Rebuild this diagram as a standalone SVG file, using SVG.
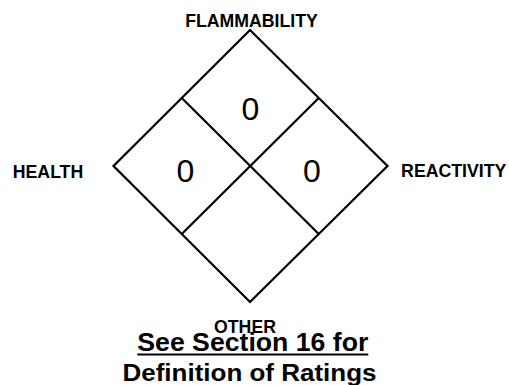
<svg xmlns="http://www.w3.org/2000/svg" width="509" height="385" viewBox="0 0 509 385">
<style>
.lbl{font-family:"Liberation Sans",Arial,sans-serif;font-weight:bold;font-size:17.7px;fill:#000;text-anchor:middle}
.num{font-family:"Liberation Sans",Arial,sans-serif;font-size:32px;fill:#000;text-anchor:middle}
.big{font-family:"Liberation Sans",Arial,sans-serif;font-weight:bold;fill:#000;text-anchor:middle}
.ln{fill:none;stroke:#000;stroke-width:2.2}
</style>
<rect width="509" height="385" fill="#fff"/>
<g id="diamond">
<polygon class="ln" points="250,30 387.5,166 250,302 113.5,166"/>
</g>
<g id="connectors">
<line class="ln" x1="181.75" y1="98" x2="318.75" y2="234"/>
<line class="ln" x1="318.75" y1="98" x2="181.75" y2="234"/>
</g>
<g id="flammability"><text class="lbl" x="251.5" y="27.3">FLAMMABILITY</text><text class="num" x="250.5" y="120">0</text></g>
<g id="health"><text class="lbl" x="48" y="177.7">HEALTH</text><text class="num" x="185.3" y="181.5">0</text></g>
<g id="reactivity"><text class="lbl" x="453.7" y="176.7">REACTIVITY</text><text class="num" x="312" y="181.5">0</text></g>
<g id="other"><text class="lbl" x="245" y="332.7">OTHER</text></g>
<g id="note">
<text class="big" x="252.8" y="351" font-size="25" textLength="231" lengthAdjust="spacingAndGlyphs">See Section 16 for</text>
<line x1="137.3" y1="354.5" x2="368.3" y2="354.5" stroke="#000" stroke-width="2.2"/>
<text class="big" x="249.5" y="380.5" font-size="23.5" textLength="254" lengthAdjust="spacingAndGlyphs">Definition of Ratings</text>
</g>
</svg>
